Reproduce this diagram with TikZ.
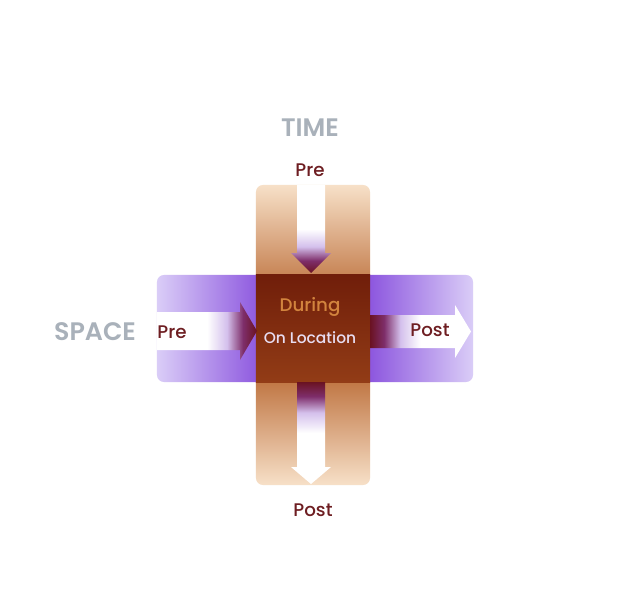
\documentclass[tikz,border=0pt]{standalone}
\usepackage{fontspec}
\setmainfont{Poppins}
\newfontfamily\medfont{Poppins Medium}
\newfontfamily\semifont{Poppins SemiBold}
\usetikzlibrary{positioning}

\definecolor{peach}{HTML}{F7E0C8}
\definecolor{rust}{HTML}{A8480A}
\definecolor{lilac}{HTML}{DACDF7}
\definecolor{violet}{HTML}{6418D2}
\definecolor{coredark}{HTML}{701E0A}
\definecolor{corelight}{HTML}{923C16}
\definecolor{tipred}{HTML}{6A1222}
\definecolor{plum}{HTML}{7E2E6A}
\definecolor{lav}{HTML}{D4C0EC}
\definecolor{labgray}{HTML}{A9B1BA}
\definecolor{labred}{HTML}{6E1E22}
\definecolor{during}{HTML}{D2843E}
\definecolor{onloc}{HTML}{E8DDF2}

\pgfdeclareverticalshading{arrowfade}{100bp}{color(0bp)=(tipred); color(25bp)=(tipred); color(32bp)=(plum); color(40bp)=(lav); color(50bp)=(white); color(100bp)=(white)}

\begin{document}
\begin{tikzpicture}[x=0.025cm,y=-0.025cm]
  \tikzstyle{bar}=[rounded corners=5pt,inner sep=0pt]
  \tikzstyle{endtext}=[text=labred,font=\fontsize{13}{15}\medfont]
  \tikzstyle{axistext}=[text=labgray,font=\fontsize{18}{20}\semifont]
  \fill[white] (0,0) rectangle (622,590);
  % the two bars and the crossing
  \node[bar,minimum width=2.85cm,minimum height=7.5cm,top color=peach,bottom color=peach,middle color=rust] (timebar) at (313,335) {};
  \node[bar,minimum width=7.9cm,minimum height=2.675cm,left color=lilac,right color=lilac,middle color=violet] (spacebar) at (315,328.5) {};
  \node[inner sep=0pt,minimum width=2.85cm,minimum height=2.675cm,top color=coredark,bottom color=corelight] (core) at (313,328.5) {};
  % arrows
  \shade[shading=arrowfade] (297,185) -- (297,253) -- (291,253) -- (311,273) -- (331,253) -- (325,253) -- (325,185) -- cycle;
  \shade[shading=arrowfade,shading angle=180] (297,382) -- (297,467) -- (291,467) -- (311,484) -- (331,467) -- (325,467) -- (325,382) -- cycle;
  \shade[shading=arrowfade,shading angle=90] (157,312) -- (240,312) -- (240,302) -- (257,331) -- (240,360) -- (240,350) -- (157,350) -- cycle;
  \shade[shading=arrowfade,shading angle=-90] (370,315) -- (455,315) -- (455,305) -- (471,331.5) -- (455,358) -- (455,348) -- (370,348) -- cycle;
  % texts
  \node[axistext] (timelabel) at (310,128) {TIME};
  \node[axistext] (spacelabel) at (95,332) {SPACE};
  \node[endtext] (timepre) at (310,170) {Pre};
  \node[endtext] (timepost) at (313,510) {Post};
  \node[endtext] (spacepre) at (172,332) {Pre};
  \node[endtext] (spacepost) at (430,330) {Post};
  \node[text=during,font=\fontsize{13}{15}\medfont] (duringtext) at (310,307) {During};
  \node[text=onloc,font=\fontsize{11}{13}\medfont] (onloctext) at (310,338) {On Location};
\end{tikzpicture}
\end{document}
